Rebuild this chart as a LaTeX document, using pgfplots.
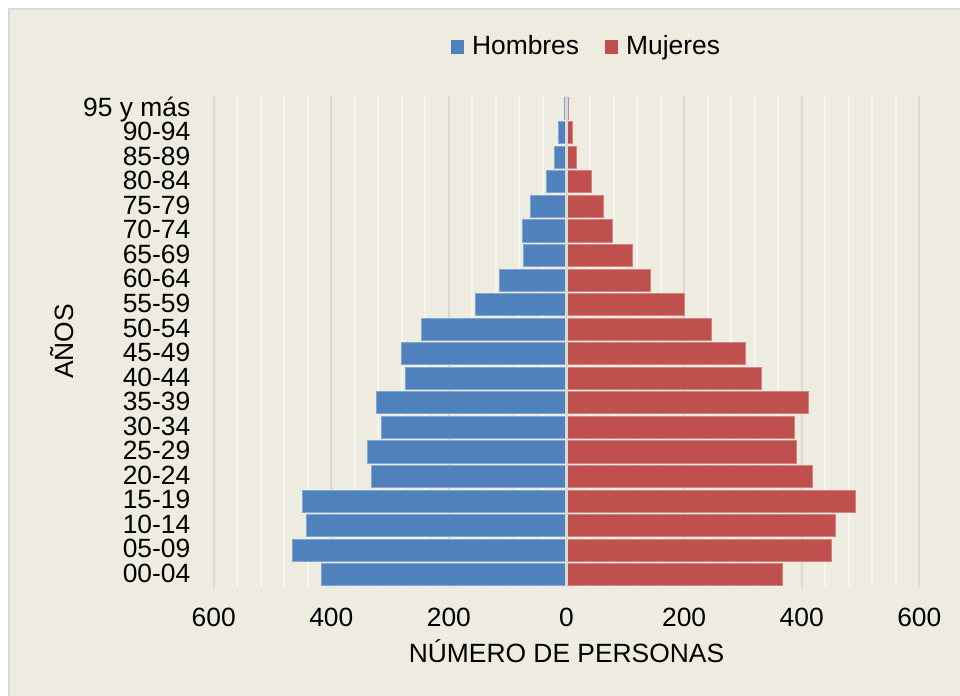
\documentclass[border=0pt]{standalone}
\usepackage{fontspec}
\setmainfont{Liberation Sans}
\usepackage{pgfplots}
\pgfplotsset{compat=1.18}
\definecolor{bgtan}{HTML}{EEECE1}
\definecolor{frame}{HTML}{D9D9D9}
\definecolor{majgrid}{HTML}{D9D9D9}
\definecolor{mingrid}{HTML}{F5F5F2}
\definecolor{hblue}{HTML}{4F81BD}
\definecolor{mred}{HTML}{C0504D}
\pgfplotstableread{
idx male female
0 -416 367
1 -466 450
2 -442 457
3 -449 491
4 -332 418
5 -338 391
6 -314 387
7 -323 411
8 -273 331
9 -280 305
10 -247 246
11 -155 200
12 -114 143
13 -73 113
14 -75 78
15 -62 63
16 -34 43
17 -21 17
18 -14 10
19 -4 3
}\pyr
\begin{document}
\begin{tikzpicture}
\useasboundingbox (0,0) rectangle (480pt,348pt);
\fill[white] (0,0) rectangle (480pt,348pt);
\filldraw[fill=bgtan, draw=frame, line width=1pt] (4.65pt,-2pt) rectangle (482pt,343.35pt);
\begin{axis}[
  at={(106.85pt,54.5pt)}, anchor=south west,
  scale only axis, width=352.8pt, height=245.5pt,
  xbar, bar width=0.9,
  xmin=-600, xmax=600, ymin=-0.5, ymax=19.5,
  xtick={-600,-400,-200,0,200,400,600},
  xticklabels={600,400,200,0,200,400,600},
  minor x tick num=4,
  ytick={0,...,19},
  yticklabels={00-04,05-09,10-14,15-19,20-24,25-29,30-34,35-39,40-44,45-49,50-54,55-59,60-64,65-69,70-74,75-79,80-84,85-89,90-94,95 y más},
  /pgf/number format/assume math mode=true,
  tick style={draw=none},
  major tick length=0pt, minor tick length=0pt,
  axis line style={draw=none},
  xmajorgrids, xminorgrids,
  major grid style={majgrid, line width=1pt},
  minor grid style={mingrid, line width=1pt},
  ymajorgrids=false,
  ticklabel style={font=\fontsize{13.2}{15}\selectfont},
  xticklabel style={anchor=base, inner sep=0pt, yshift=-19.85pt},
  yticklabel style={anchor=base east, inner sep=0pt, xshift=-11.5pt, yshift=-3.9pt},
  xlabel={NÚMERO DE PERSONAS},
  xlabel style={at={(axis description cs:0.5,0)}, anchor=base, yshift=-37.65pt, font=\fontsize{13.2}{15}\selectfont, inner sep=0pt},
  ylabel={AÑOS},
  ylabel style={at={(axis description cs:-0.215,0.5)}, anchor=center, rotate=0, font=\fontsize{13.2}{15}\selectfont},
  legend columns=2,
  legend style={draw=none, fill=none, at={(axis description cs:0.5298,1.10)}, anchor=center,
    font=\fontsize{13.2}{15}\selectfont,
    /tikz/every even column/.append style={column sep=11pt}},
]
\addplot[bar shift=0pt, fill=hblue, draw=hblue!70!white, line width=0.5pt,
  legend image code/.code={\fill[hblue] (0pt,-3.2pt) rectangle (6pt,3.2pt); \path (8pt,0pt);}]
  table[x=male, y=idx] {\pyr};
\addlegendentry{Hombres}
\addplot[bar shift=0pt, fill=mred, draw=mred!70!white, line width=0.5pt,
  legend image code/.code={\fill[mred] (0pt,-3.2pt) rectangle (6pt,3.2pt); \path (8pt,0pt);}]
  table[x=female, y=idx] {\pyr};
\addlegendentry{Mujeres}
\draw[majgrid, line width=1.2pt] (axis cs:0,-0.5) -- (axis cs:0,19.5);
\end{axis}
\end{tikzpicture}
\end{document}
